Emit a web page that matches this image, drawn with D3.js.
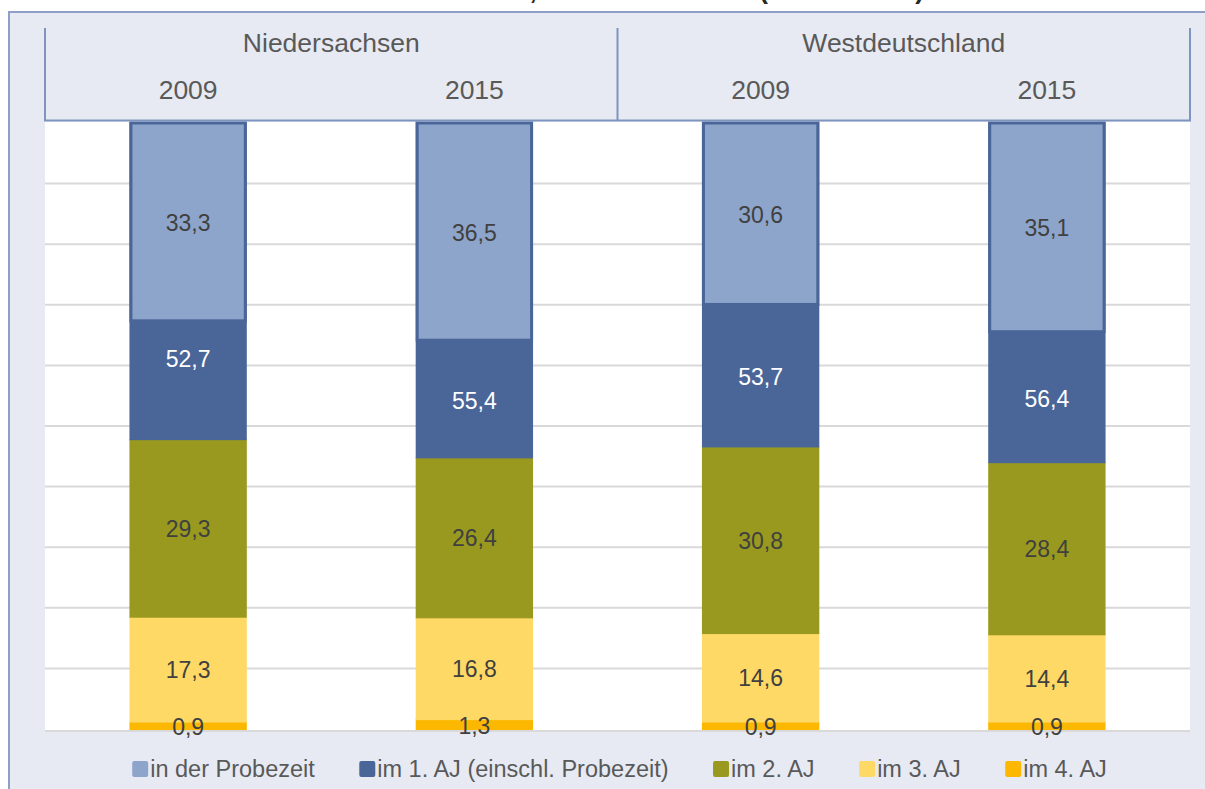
<!DOCTYPE html>
<html>
<head>
<meta charset="utf-8">
<script src="https://cdn.jsdelivr.net/npm/d3@7"></script>
<style>
  body { margin: 0; background: #fff; }
  svg { display: block; font-family: "Liberation Sans", Arial, sans-serif; }
</style>
</head>
<body>
<svg id="chart" width="1205" height="789"></svg>
<script>
// Daten
const regions = ["Niedersachsen", "Westdeutschland"];
const years = ["2009", "2015", "2009", "2015"];
const regionOfBar = [0, 0, 1, 1];
const seriesNames = ["in der Probezeit", "im 1. AJ (einschl. Probezeit)", "im 2. AJ", "im 3. AJ", "im 4. AJ"];
const probezeit = [33.3, 36.5, 30.6, 35.1];
const aj1 = [52.7, 55.4, 53.7, 56.4];
const aj2 = [29.3, 26.4, 30.8, 28.4];
const aj3 = [17.3, 16.8, 14.6, 14.4];
const aj4 = [0.9, 1.3, 0.9, 0.9];
const yTicks = [0, 10, 20, 30, 40, 50, 60, 70, 80, 90, 100];

const colors = ["#8ea5cb", "#4a6699", "#98991e", "#ffd966", "#fcb800"];
const width = 1205, height = 789;
const plot = {left: 45, right: 1190, top: 122, bottom: 730};
const bg = "#e7eaf2", frameCol = "#8ea0c8";

const de = d3.formatLocale({decimal: ",", thousands: ".", grouping: [3], currency: ["", "€"]});
const fmt = de.format(".1f");

const svg = d3.select("#chart");

// Hintergrund + Rahmen
svg.append("rect").attr("x", 9).attr("y", 12).attr("width", width).attr("height", height)
    .attr("fill", bg);
svg.append("path").attr("d", `M9,${height} V12 H${width}`)
    .attr("fill", "none").attr("stroke", frameCol).attr("stroke-width", 2);

// abgeschnittener Titel (oben aus dem Bild geschoben wie im Original)
svg.append("text")
    .attr("x", 924).attr("y", -1)
    .attr("text-anchor", "end")
    .attr("font-size", 26).attr("font-weight", "bold").attr("fill", "#262626")
    .text("Abbrüche nach Zeitraum, in 2009 und 2015 (Anteile in %)");

svg.append("rect")
    .attr("x", plot.left).attr("y", plot.top)
    .attr("width", plot.right - plot.left).attr("height", plot.bottom - plot.top)
    .attr("fill", "#fff");

const x = d3.scaleBand()
    .domain(d3.range(years.length))
    .range([plot.left, plot.right])
    .paddingInner(0.59).paddingOuter(0.295);

const y = d3.scaleLinear().domain([0, 100]).range([plot.bottom - 2, plot.top]);

// Gitternetz
svg.append("g").selectAll("line")
    .data(yTicks.filter(t => t > 0 && t < 100))
    .join("line")
    .attr("x1", plot.left).attr("x2", plot.right)
    .attr("y1", d => y(d) + 1).attr("y2", d => y(d) + 1)
    .attr("stroke", "#d9d9d9").attr("stroke-width", 2);

// Stapel
const rows = years.map((yr, i) => ({i, aj4: aj4[i], aj3: aj3[i], aj2: aj2[i], aj1: aj1[i]}));
const keys = ["aj4", "aj3", "aj2", "aj1"];
const keyColor = {aj4: colors[4], aj3: colors[3], aj2: colors[2], aj1: colors[1]};
const stacked = d3.stack().keys(keys)(rows);

const gBars = svg.append("g");
stacked.forEach(layer => {
    gBars.selectAll(null)
        .data(layer)
        .join("rect")
        .attr("x", d => x(d.data.i))
        .attr("width", x.bandwidth())
        .attr("y", d => Math.max(y(d[1]) - 1, plot.top))
        .attr("height", d => (d[0] === 0 ? plot.bottom : y(d[0])) - Math.max(y(d[1]) - 1, plot.top))
        .attr("fill", keyColor[layer.key]);
});

// Probezeit als Überlagerung im 1. AJ
gBars.selectAll(".pz")
    .data(probezeit)
    .join("rect")
    .attr("class", "pz")
    .attr("x", (d, i) => x(i) + 1.5)
    .attr("width", x.bandwidth() - 3)
    .attr("y", y(100) + 1)
    .attr("height", d => y(100 - d) - y(100) - 4)
    .attr("fill", colors[0])
    .attr("stroke", colors[1]).attr("stroke-width", 3);

// Achsenlinie unten
svg.append("line")
    .attr("x1", plot.left).attr("x2", plot.right)
    .attr("y1", plot.bottom + 1).attr("y2", plot.bottom + 1)
    .attr("stroke", "#d9d9d9").attr("stroke-width", 2);

// Datenbeschriftungen
const labels = [];
stacked.forEach(layer => {
    layer.forEach(d => {
        const i = d.data.i;
        let top = d[1], bot = d[0];
        if (layer.key === "aj1") top = 100 - probezeit[i];
        let cy = (y(top) + y(bot)) / 2;
        if (layer.key === "aj4") cy = (y(top) + plot.bottom) / 2 + 1;
        if (layer.key === "aj1" && i === 0) cy -= 23;
        labels.push({x: x(i) + x.bandwidth() / 2, y: cy, text: fmt(d.data[layer.key]),
            fill: layer.key === "aj1" ? "#fff" : "#404040"});
    });
});
probezeit.forEach((v, i) => {
    labels.push({x: x(i) + x.bandwidth() / 2, y: (y(100) + y(100 - v)) / 2, text: fmt(v), fill: "#404040"});
});
svg.append("g").selectAll("text")
    .data(labels)
    .join("text")
    .attr("x", d => d.x).attr("y", d => d.y)
    .attr("dy", "0.35em")
    .attr("text-anchor", "middle")
    .attr("font-size", 23)
    .attr("fill", d => d.fill)
    .text(d => d.text);

// Kopfzeile (Regionen / Jahre)
const head = svg.append("g");
const lineCol = "#7f95c0";
const midX = (x(1) + x.bandwidth() + x(2)) / 2;
[plot.left, midX, plot.right].forEach(xx => {
    head.append("line").attr("x1", xx).attr("x2", xx).attr("y1", 28).attr("y2", 121)
        .attr("stroke", lineCol).attr("stroke-width", 2);
});
head.append("line").attr("x1", plot.left - 1).attr("x2", plot.right + 1)
    .attr("y1", 120.5).attr("y2", 120.5)
    .attr("stroke", lineCol).attr("stroke-width", 2);

head.selectAll(".reg")
    .data(regions)
    .join("text")
    .attr("class", "reg")
    .attr("x", (d, k) => k === 0 ? (plot.left + midX) / 2 : (midX + plot.right) / 2)
    .attr("y", 43).attr("dy", "0.35em")
    .attr("text-anchor", "middle")
    .attr("font-size", 26.5).attr("fill", "#595959")
    .text(d => d);

head.selectAll(".yr")
    .data(years)
    .join("text")
    .attr("class", "yr")
    .attr("x", (d, i) => x(i) + x.bandwidth() / 2)
    .attr("y", 90).attr("dy", "0.35em")
    .attr("text-anchor", "middle")
    .attr("font-size", 26.5).attr("fill", "#595959")
    .text(d => d);

// Legende
const legend = svg.append("g");
const items = legend.selectAll("g")
    .data(seriesNames)
    .join("g");
items.append("rect")
    .attr("width", 16).attr("height", 16).attr("rx", 2)
    .attr("y", 761)
    .attr("fill", (d, i) => colors[i]);
items.append("text")
    .attr("x", 18).attr("y", 769).attr("dy", "0.35em")
    .attr("font-size", 23.5).attr("fill", "#595959")
    .text(d => d);
let widths = [];
items.each(function() { widths.push(18 + this.querySelector("text").getComputedTextLength()); });
const gap = 44.5;
const total = d3.sum(widths) + gap * (widths.length - 1);
let cx = (plot.left + plot.right) / 2 - total / 2 + 2;
items.attr("transform", (d, i) => {
    const t = `translate(${cx},0)`;
    cx += widths[i] + gap;
    return t;
});
</script>
</body>
</html>
